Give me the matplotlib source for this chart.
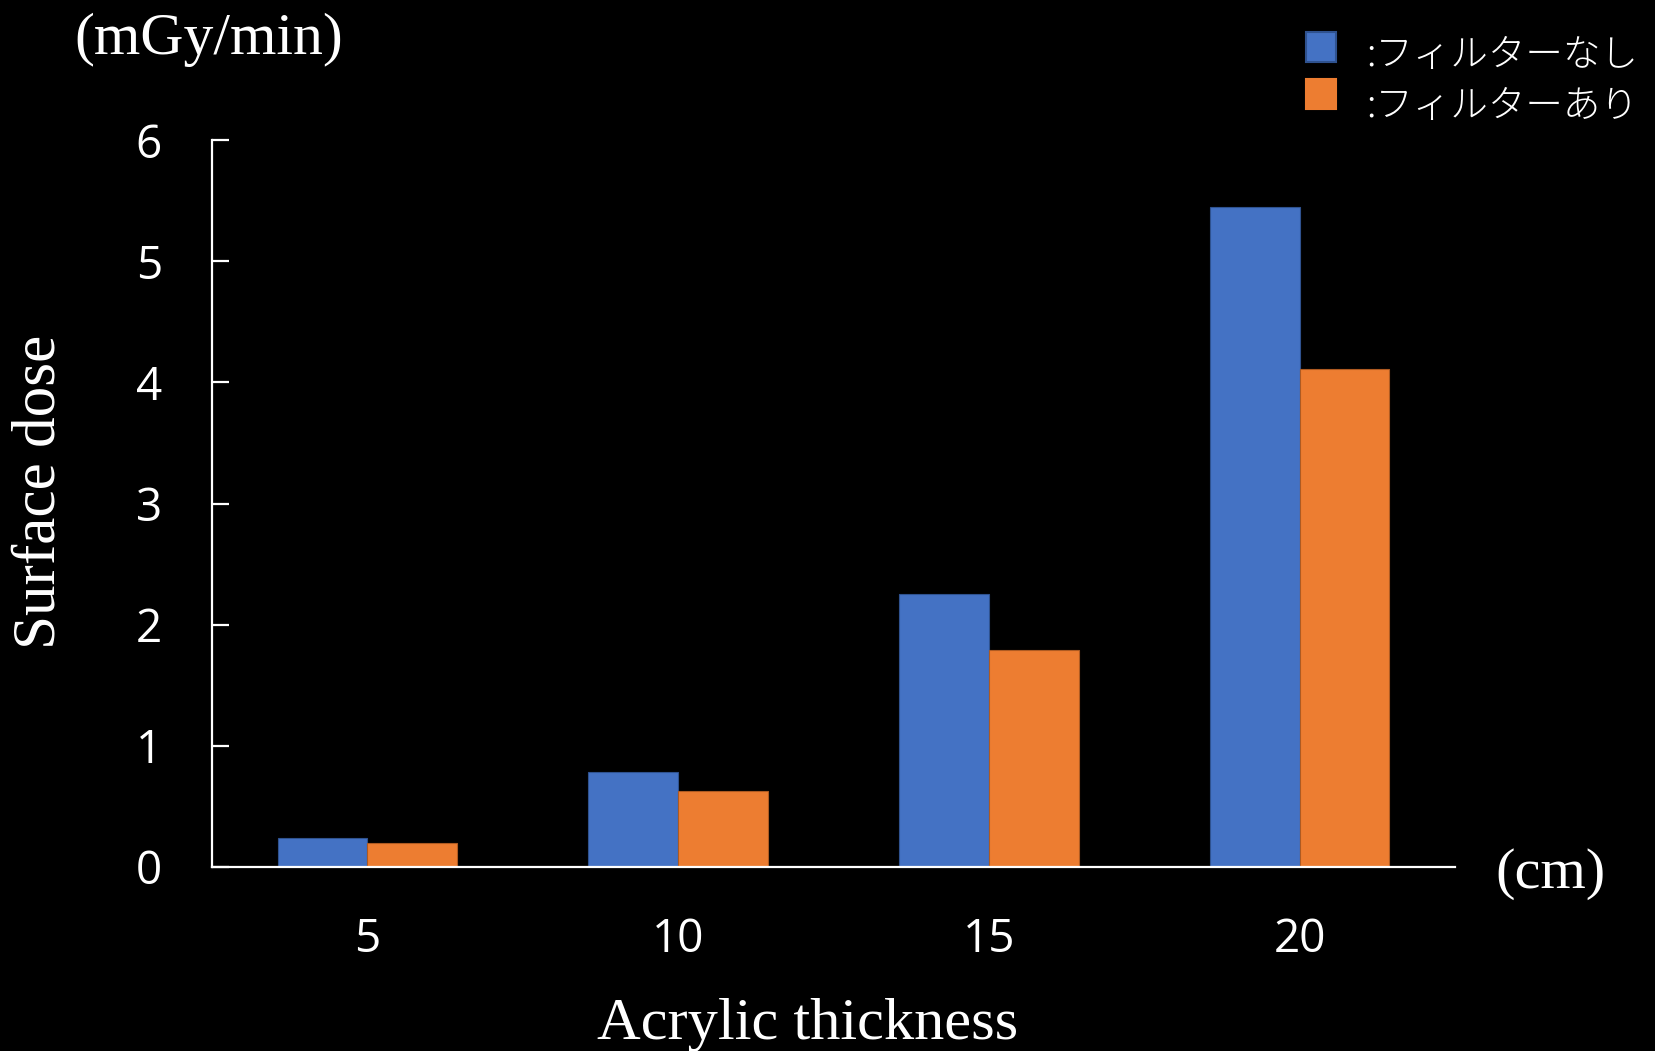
import matplotlib
matplotlib.use("Agg")
import matplotlib.pyplot as plt
import numpy as np

# Surface dose (mGy/min) by acrylic thickness (cm)
thickness = ["5", "10", "15", "20"]
dose_no_filter = [0.24, 0.78, 2.25, 5.45]
dose_filter = [0.20, 0.63, 1.79, 4.11]
series_labels = [":フィルターなし", ":フィルターあり"]
yticks = [0, 1, 2, 3, 4, 5, 6]

BLUE = "#4472C4"
ORANGE = "#ED7D31"
SERIF = ["Liberation Serif", "DejaVu Serif"]
SANS = ["Open Sans", "DejaVu Sans"]
JP = ["Noto Sans CJK JP", "DejaVu Sans"]

fig = plt.figure(figsize=(16.56, 10.51), dpi=100, facecolor="black")
ax = fig.add_axes([212 / 1656, 1 - 867 / 1051, (1455 - 212) / 1656, (867 - 140) / 1051])
ax.set_facecolor("black")

x = np.arange(len(thickness))
w = 0.289
ax.bar(x - w / 2, dose_no_filter, w, color=BLUE, edgecolor="#2F528F", linewidth=0.8, zorder=2)
ax.bar(x + w / 2, dose_filter, w, color=ORANGE, edgecolor="#AE5A21", linewidth=0.8, zorder=2)

ax.set_xlim(-0.5, len(thickness) - 0.5)
ax.set_ylim(0, 6)
ax.set_yticks(yticks)
ax.set_xticks(x)
ax.set_xticklabels(thickness)

for s in ["top", "right"]:
    ax.spines[s].set_visible(False)
for s in ["left", "bottom"]:
    ax.spines[s].set_color("white")
    ax.spines[s].set_linewidth(1.6)
    ax.spines[s].set_zorder(3)

ax.tick_params(axis="y", direction="in", length=12, width=1.6, color="white",
               labelcolor="white", labelsize=33, pad=36)
ax.tick_params(axis="x", length=0, labelcolor="white", labelsize=33, pad=36)
for lab in ax.get_xticklabels() + ax.get_yticklabels():
    lab.set_family(SANS)

fig.text(40 / 1656, 1 - 492 / 1051, "Surface dose", rotation=90, color="white",
         fontsize=44, family=SERIF, ha="center", va="center")
fig.text(808 / 1656, 1 - 1025 / 1051, "Acrylic thickness", color="white",
         fontsize=43.5, family=SERIF, ha="center", va="center")
fig.text(209 / 1656, 1 - 40 / 1051, "(mGy/min)", color="white",
         fontsize=43, family=SERIF, ha="center", va="center")
fig.text(1551 / 1656, 1 - 874 / 1051, "(cm)", color="white",
         fontsize=42, family=SERIF, ha="center", va="center")

# Legend drawn as swatches and labels in figure coordinates
for (face, edge), label, yc, ty in zip([(BLUE, "#2F528F"), (ORANGE, ORANGE)], series_labels,
                                       [47, 94], [55, 106]):
    fig.patches.append(plt.Rectangle((1306 / 1656, 1 - (yc + 15) / 1051), 30 / 1656, 30 / 1051,
                                     transform=fig.transFigure, facecolor=face,
                                     edgecolor=edge, linewidth=1.5))
    fig.text(1366 / 1656, 1 - ty / 1051, label, color="white", fontsize=27,
             family=JP, fontweight="light", ha="left", va="center")

fig.savefig("out.png", dpi=100, facecolor="black")
